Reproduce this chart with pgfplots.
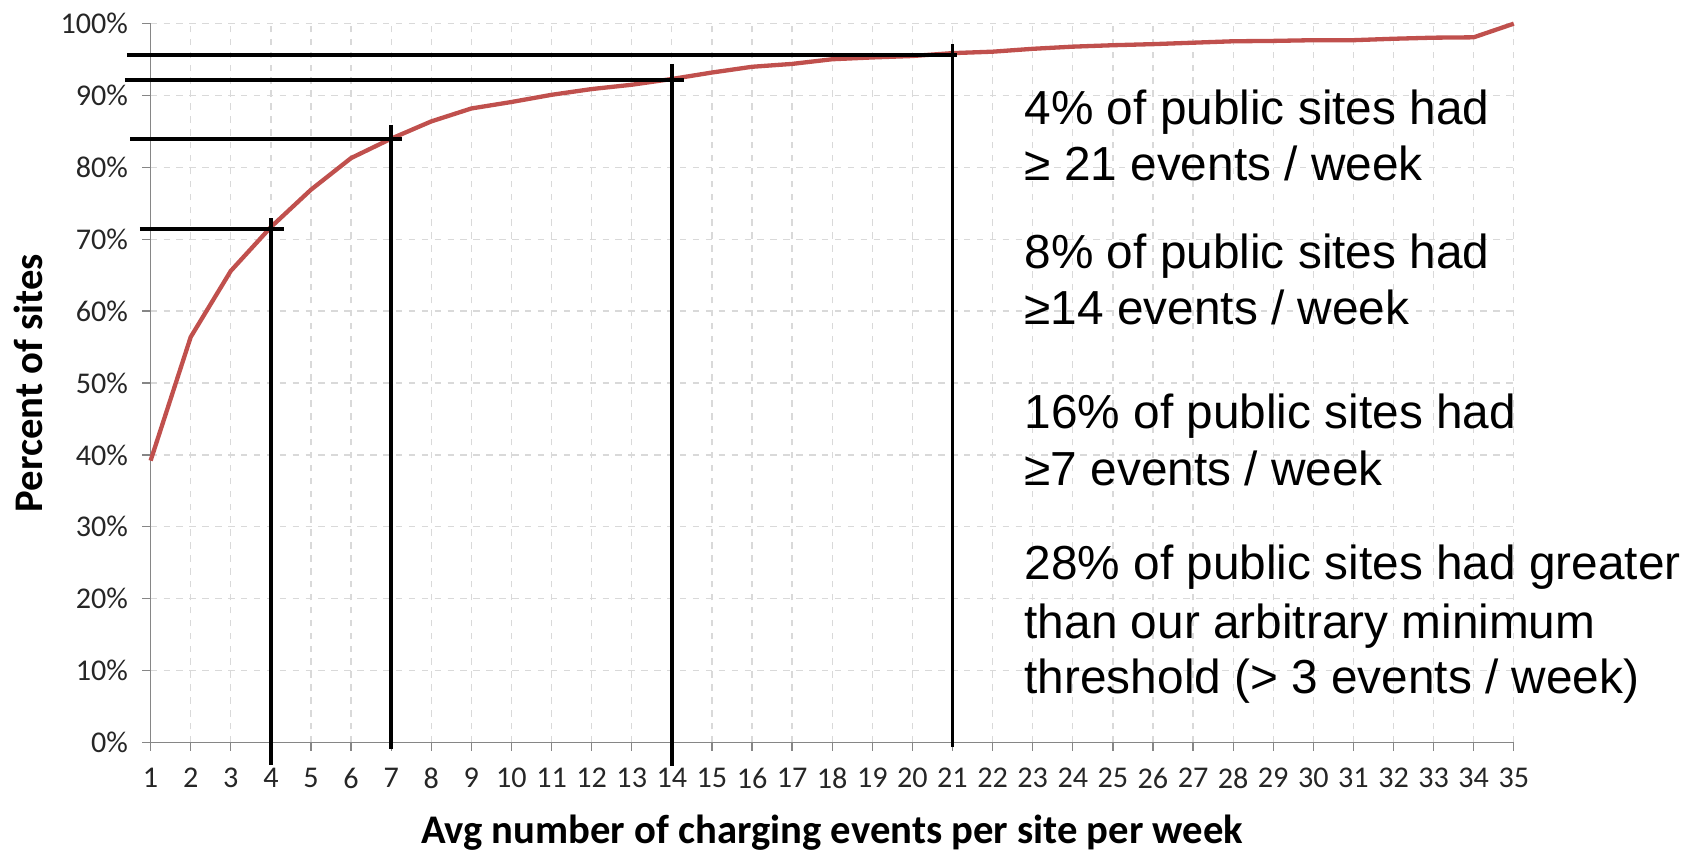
\documentclass[border=0pt]{standalone}
\usepackage{fontspec}
\usepackage{pgfplots}
\pgfplotsset{compat=1.18}
\newfontfamily\calib{Carlito}
\newfontfamily\arialf{Liberation Sans}
\definecolor{curvered}{HTML}{C0504D}
\definecolor{gridgray}{HTML}{D9D9D9}
\definecolor{axisgray}{HTML}{868686}

\begin{document}
\begin{tikzpicture}
% page frame: axis corner sits at (0,0)
\useasboundingbox (-70pt,-51pt) rectangle ++(784pt,396pt);
\begin{axis}[
  at={(0,0)}, anchor=south west,
  scale only axis,
  width=633.5pt,
  height=334pt,
  xmin=1, xmax=35,
  ymin=0, ymax=100,
  xtick={1,...,35},
  ytick={0,10,...,100},
  yticklabel={\pgfmathprintnumber{\tick}\%},
  axis lines=left,
  axis line style={-, axisgray, line width=0.8pt},
  tick style={axisgray, line width=0.6pt},
  tick align=outside,
  major tick length=4pt,
  grid=major,
  major grid style={gridgray, dashed, line width=0.6pt},
  ticklabel style={font=\calib\fontsize{14}{16}\selectfont, text=black!85},
  xticklabel style={yshift=-4.5pt},
  yticklabel style={xshift=-3pt},
  /pgf/number format/assume math mode=true,
  xlabel={Avg number of charging events per site per week},
  ylabel={Percent of sites},
  label style={font=\calib\bfseries\fontsize{18.9}{22}\selectfont},
  xlabel style={yshift=-5pt},
  ylabel style={yshift=1.5pt},
  clip=false,
]
\addplot[curvered, line width=2pt] coordinates {
  (1,39.2) (2,56.4) (3,65.6) (4,71.7) (5,76.9) (6,81.3) (7,84.0)
  (8,86.4) (9,88.2) (10,89.1) (11,90.1) (12,90.9) (13,91.5) (14,92.3)
  (15,93.2) (16,94.0) (17,94.4) (18,95.05) (19,95.3) (20,95.5) (21,95.9)
  (22,96.1) (23,96.5) (24,96.8) (25,97.0) (26,97.15) (27,97.35) (28,97.55)
  (29,97.6) (30,97.7) (31,97.7) (32,97.9) (33,98.05) (34,98.1) (35,100)
};
% threshold guide lines
\addplot[black, line width=1.8pt, forget plot] coordinates {(0.41,95.7) (21.1,95.7)};
\addplot[black, line width=1.8pt, forget plot] coordinates {(0.36,92.2) (14.3,92.2)};
\addplot[black, line width=1.8pt, forget plot] coordinates {(0.49,84.0) (7.28,84.0)};
\addplot[black, line width=1.8pt, forget plot] coordinates {(0.73,71.4) (4.33,71.4)};
\addplot[black, line width=1.8pt, forget plot] coordinates {(4,72.9) (4,-3.1)};
\addplot[black, line width=1.8pt, forget plot] coordinates {(7,85.9) (7,-0.9)};
\addplot[black, line width=1.8pt, forget plot] coordinates {(14,94.4) (14,-3.3)};
\addplot[black, line width=1.8pt, forget plot] coordinates {(21,97.2) (21,-0.6)};
% annotations
\begin{scope}[every node/.style={anchor=base west, inner sep=0pt, font=\arialf\fontsize{22.2}{26}\selectfont}]
\node at (axis cs:22.79,85.9) {4\% of public sites had};
\node at (axis cs:22.79,78.2) {≥ 21 events / week};
\node at (axis cs:22.79,66.0) {8\% of public sites had};
\node at (axis cs:22.79,58.1) {≥14 events / week};
\node at (axis cs:22.79,43.7) {16\% of public sites had};
\node at (axis cs:22.79,35.8) {≥7 events / week};
\node at (axis cs:22.79,22.6) {28\% of public sites had greater};
\node at (axis cs:22.79,14.5) {than our arbitrary minimum};
\node at (axis cs:22.79,6.8) {threshold (> 3 events / week)};
\end{scope}
\end{axis}
\end{tikzpicture}
\end{document}
